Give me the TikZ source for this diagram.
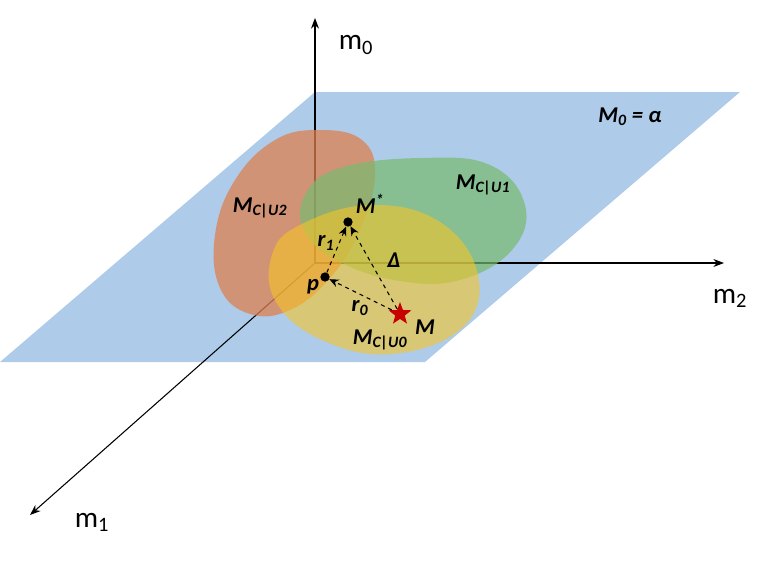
\documentclass[tikz,border=0pt]{standalone}
\usepackage{fontspec}
\setmainfont{Carlito}
\usetikzlibrary{shapes.geometric,arrows.meta}
\begin{document}
\begin{tikzpicture}[x=0.02646cm,y=-0.02646cm,
  axis/.style={-{Stealth[length=8pt,width=6pt]},line width=0.8pt},
  dasharrow/.style={dashed,line width=0.8pt,-{Stealth[length=7pt,width=6pt]}},
  lbl/.style={font=\bfseries\itshape\fontsize{17}{17}\selectfont,inner sep=0pt},
  axlbl/.style={font=\fontsize{22}{22}\selectfont,inner sep=0pt},
  dot/.style={circle,fill=black,inner sep=0pt,minimum size=7pt}]
\useasboundingbox (0,0) rectangle (776,566);
\fill[fill={rgb,255:red,174;green,204;blue,234}] (315,92) -- (740,92) -- (425,362) -- (0,362) -- cycle;
\coordinate (O) at (315,263);
\coordinate (A0) at (315,18);
\coordinate (A2) at (724,263);
\coordinate (A1) at (30,515);
\draw[axis] (O) -- (A0);
\draw[axis] (O) -- (A2);
\draw[axis] (O) -- (A1);
\fill[fill={rgb,255:red,222;green,128;blue,80},opacity=0.75] plot[smooth cycle,tension=0.7] coordinates {(320,130) (362,140) (375,175) (360,230) (330,278) (290,310) (250,314) (220,288) (215,235) (235,180) (275,140)};
\fill[fill={rgb,255:red,120;green,186;blue,110},opacity=0.7] plot[smooth cycle,tension=0.7] coordinates {(305,195) (340,168) (420,158) (490,165) (525,205) (512,250) (460,280) (400,281) (340,262) (305,232)};
\fill[fill={rgb,255:red,244;green,196;blue,40},opacity=0.6] plot[smooth cycle,tension=0.7] coordinates {(300,225) (370,205) (440,222) (478,275) (462,328) (392,354) (322,340) (276,302) (272,255)};
\node[dot] (Ms) at (348,222) {};
\node[dot] (p) at (325,277) {};
\node[star,star points=5,star point ratio=2.4,fill={rgb,255:red,200;green,0;blue,0},inner sep=0pt,minimum size=18pt] (M) at (400,314) {};
\draw[dasharrow] (p) -- (Ms);
\draw[dasharrow] (M) -- (Ms);
\draw[dasharrow] (M) -- (p);
\node[axlbl] (l0) at (356,45) {m\textsubscript{0}};
\node[axlbl] (l2) at (730,298) {m\textsubscript{2}};
\node[axlbl] (l1) at (92,522) {m\textsubscript{1}};
\node[lbl] (tMs) at (370,204) {M\textsuperscript{*}};
\node[lbl] (tp) at (313,287) {p};
\node[lbl] (tM) at (425,327) {M};
\node[lbl] (tr1) at (326,243) {r\textsubscript{1}};
\node[lbl] (tr0) at (360,308) {r\textsubscript{0}};
\node[lbl] (tD) at (394,260) {Δ};
\node[lbl] (tU2) at (260,208) {M\textsubscript{C|U2}};
\node[lbl] (tU1) at (483,185) {M\textsubscript{C|U1}};
\node[lbl] (tU0) at (380,340) {M\textsubscript{C|U0}};
\node[lbl] (tal) at (630,117) {M\textsubscript{0} = α};
\end{tikzpicture}
\end{document}
